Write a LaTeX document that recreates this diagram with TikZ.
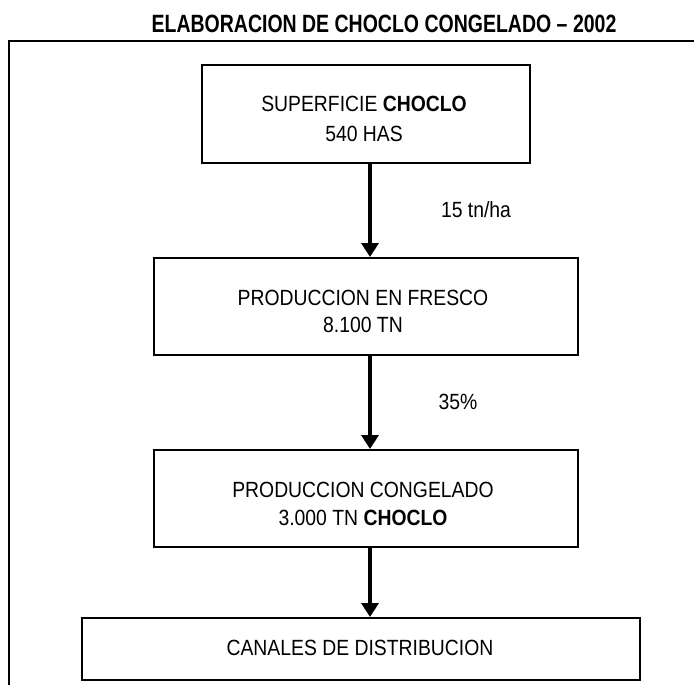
\documentclass[tikz,border=0pt]{standalone}
\usepackage{fontspec}
\setmainfont{Liberation Sans}[FakeStretch=0.88]
\newfontfamily\titlefont{Liberation Sans}[FakeStretch=0.78]
\usetikzlibrary{arrows.meta}
\begin{document}
\begin{tikzpicture}[x=1pt,y=-1pt,
  box/.style={draw,line width=2pt,inner sep=0pt,anchor=north west},
  lbl/.style={anchor=base,inner sep=0pt,font=\fontsize{22}{26}\selectfont},
  flow/.style={line width=3.5pt,-{Triangle[width=17pt,length=14pt]}}]
\useasboundingbox (0,0) rectangle (694,685);
\clip (0,0) rectangle (694,685);
% outer frame (cut by the page edges)
\draw[line width=2pt] (9,700) -- (9,41) -- (710,41);
% title
\node[anchor=base,inner sep=0pt,font=\titlefont\bfseries\fontsize{25}{25}\selectfont] (title) at (384,33) {ELABORACION DE CHOCLO CONGELADO – 2002};
% boxes
\node[box,minimum width=328pt,minimum height=98pt] (b1) at (201,64) {};
\node[box,minimum width=424pt,minimum height=97pt] (b2) at (153,257) {};
\node[box,minimum width=424pt,minimum height=97pt] (b3) at (153,449) {};
\node[box,minimum width=558pt,minimum height=62pt] (b4) at (81,617) {};
% texts
\node[lbl] (t1a) at (364,112) {SUPERFICIE \textbf{CHOCLO}};
\node[lbl] (t1b) at (364,142) {540 HAS};
\node[lbl] (t2a) at (363,305) {PRODUCCION EN FRESCO};
\node[lbl] (t2b) at (363,332) {8.100 TN};
\node[lbl] (t3a) at (363,497) {PRODUCCION CONGELADO};
\node[lbl] (t3b) at (363,525) {3.000 TN \textbf{CHOCLO}};
\node[lbl] (t4) at (360,655) {CANALES DE DISTRIBUCION};
% connectors
\draw[flow] ([xshift=4pt]b1.south) -- ([xshift=4pt]b1.south |- b2.north);
\draw[flow] ([xshift=4pt]b2.south) -- ([xshift=4pt]b2.south |- b3.north);
\draw[flow] ([xshift=4pt]b3.south) -- ([xshift=4pt]b3.south |- b4.north);
% connector labels
\node[lbl] (l1) at (476,217) {15 tn/ha};
\node[lbl] (l2) at (458,409) {35\%};
\end{tikzpicture}
\end{document}
